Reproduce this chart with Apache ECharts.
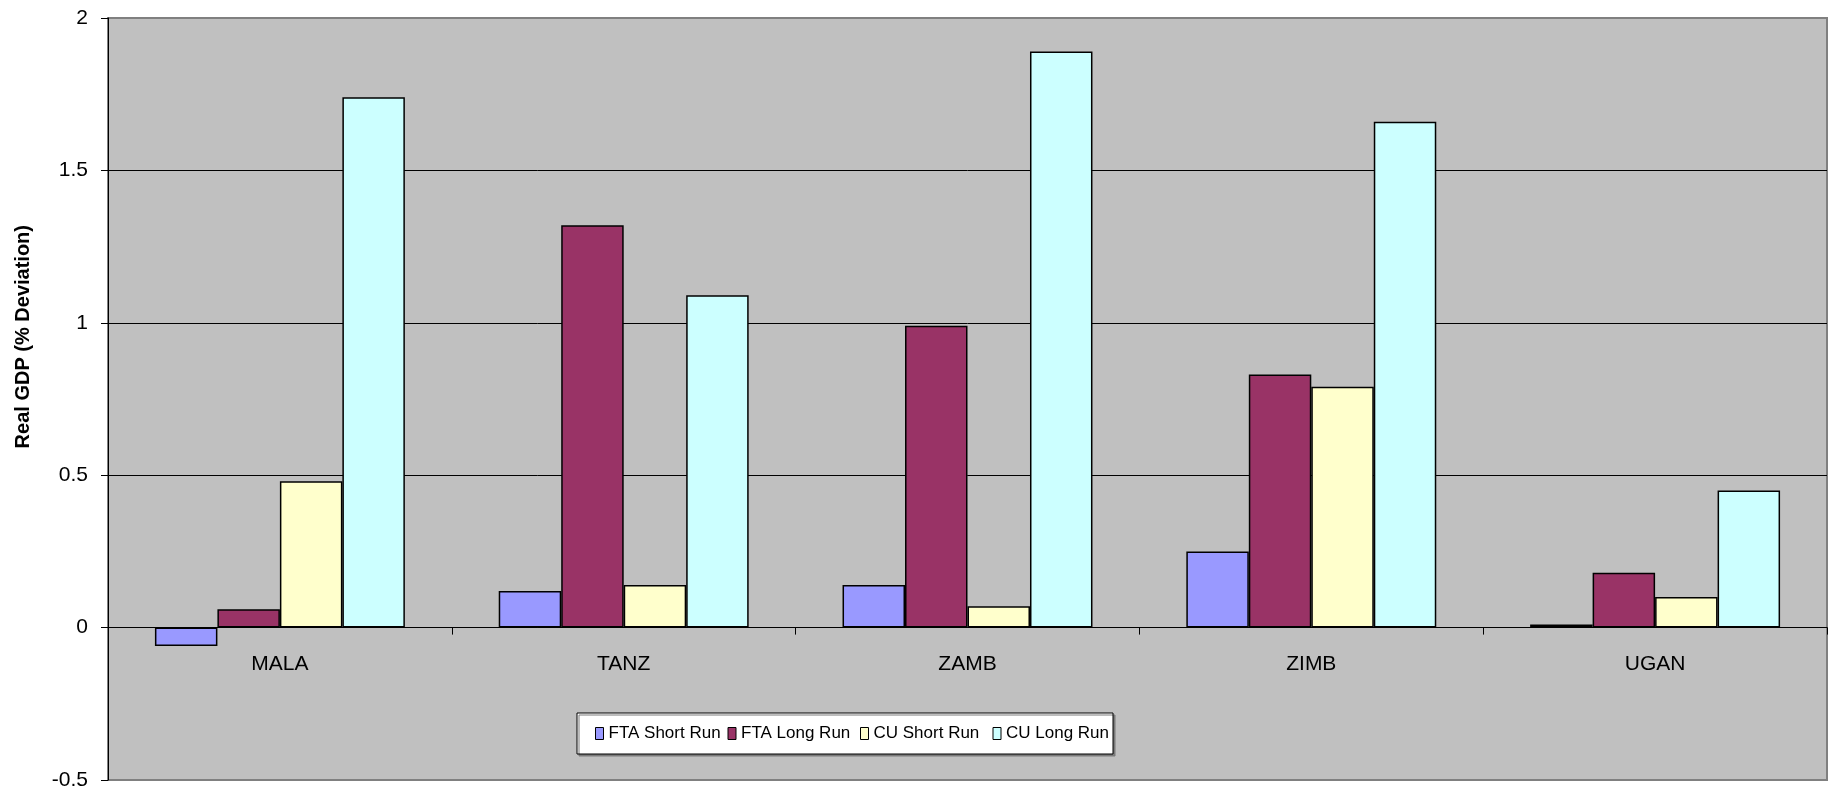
<!DOCTYPE html>
<html>
<head>
<meta charset="utf-8">
<script src="https://cdn.jsdelivr.net/npm/echarts@6/dist/echarts.min.js"></script>
<style>
  html, body { margin: 0; padding: 0; background: #ffffff; }
  #chart { width: 1833px; height: 787px; }
</style>
</head>
<body>
<div id="chart"></div>
<script>
// Real GDP deviation by country under FTA and customs-union scenarios
const categories = ['MALA', 'TANZ', 'ZAMB', 'ZIMB', 'UGAN'];
const ftaShortRun = [-0.06, 0.12, 0.14, 0.25, 0.01];
const ftaLongRun  = [0.06, 1.32, 0.99, 0.83, 0.18];
const cuShortRun  = [0.48, 0.14, 0.07, 0.79, 0.10];
const cuLongRun   = [1.74, 1.09, 1.89, 1.66, 0.45];
const seriesNames = ['FTA Short Run', 'FTA Long Run', 'CU Short Run', 'CU Long Run'];
const yTitle = 'Real GDP (% Deviation)';

const colors = ['#9999FF', '#993366', '#FFFFCC', '#CCFFFF'];
const font = "'Liberation Sans', Arial, sans-serif";

const Y_MIN = -0.5, Y_MAX = 2;
const GRID = { left: 108, top: 18, right: 6, bottom: 7 };
const CHART_H = 787;

const chart = echarts.init(document.getElementById('chart'), null, { renderer: 'canvas' });

const seriesData = [ftaShortRun, ftaLongRun, cuShortRun, cuLongRun];

// the category axis sits on the zero line: lift it from the grid bottom
const plotH = CHART_H - GRID.top - GRID.bottom;
const zeroLift = plotH * (0 - Y_MIN) / (Y_MAX - Y_MIN);

const lastName = seriesNames[seriesNames.length - 1];

chart.setOption({
  animation: false,
  backgroundColor: '#ffffff',
  textStyle: { fontFamily: font },
  grid: {
    left: GRID.left, top: GRID.top, right: GRID.right, bottom: GRID.bottom,
    containLabel: false,
    outerBoundsMode: 'none',
    show: true,
    backgroundColor: '#C0C0C0',
    borderColor: '#808080',
    borderWidth: 2
  },
  legend: {
    left: 577,
    top: 713,
    orient: 'horizontal',
    itemGap: 0,
    itemWidth: 8,
    itemHeight: 12,
    padding: [12, 4, 12, 18],
    backgroundColor: '#ffffff',
    borderColor: '#000000',
    borderWidth: 1,
    shadowColor: '#7a7a7a',
    shadowBlur: 0,
    shadowOffsetX: 2,
    shadowOffsetY: 2,
    icon: 'rect',
    itemStyle: { borderColor: '#000000', borderWidth: 1 },
    data: seriesNames,
    // equal-width legend columns, the last one ends at its text
    formatter: name => (name === lastName ? `{t|${name}}` : `{w|${name}}`),
    textStyle: {
      fontFamily: font,
      fontSize: 17,
      color: '#000000',
      rich: {
        w: { width: 119, fontSize: 17, lineHeight: 20, fontFamily: font, color: '#000000' },
        t: { fontSize: 17, lineHeight: 20, fontFamily: font, color: '#000000' }
      }
    }
  },
  graphic: [{
    type: 'text',
    left: 13,
    top: 225,
    rotation: Math.PI / 2,
    style: {
      text: yTitle,
      fontFamily: font,
      fontWeight: 'bold',
      fontSize: 20,
      fill: '#000000'
    }
  }],
  xAxis: {
    type: 'category',
    data: categories,
    offset: -zeroLift,
    axisLine: { onZero: false, lineStyle: { color: '#000000', width: 1 } },
    axisTick: { show: true, length: 7, lineStyle: { color: '#000000' } },
    axisLabel: { color: '#000000', fontSize: 21, margin: 26, fontFamily: font },
    splitLine: { show: false }
  },
  yAxis: {
    type: 'value',
    min: Y_MIN,
    max: Y_MAX,
    interval: 0.5,
    axisLine: { show: true, lineStyle: { color: '#000000', width: 1 } },
    axisTick: { show: true, length: 7, lineStyle: { color: '#000000' } },
    axisLabel: { color: '#000000', fontSize: 21, margin: 20, fontFamily: font },
    splitLine: {
      show: true,
      showMinLine: false,
      showMaxLine: false,
      lineStyle: { color: '#000000', width: 1 }
    }
  },
  series: seriesNames.map((name, i) => ({
    name: name,
    type: 'bar',
    data: seriesData[i],
    barGap: '0%',
    barCategoryGap: '27.3%',
    itemStyle: {
      color: colors[i],
      borderColor: '#000000',
      borderWidth: 1.5
    },
    emphasis: { disabled: true }
  }))
});
</script>
</body>
</html>
